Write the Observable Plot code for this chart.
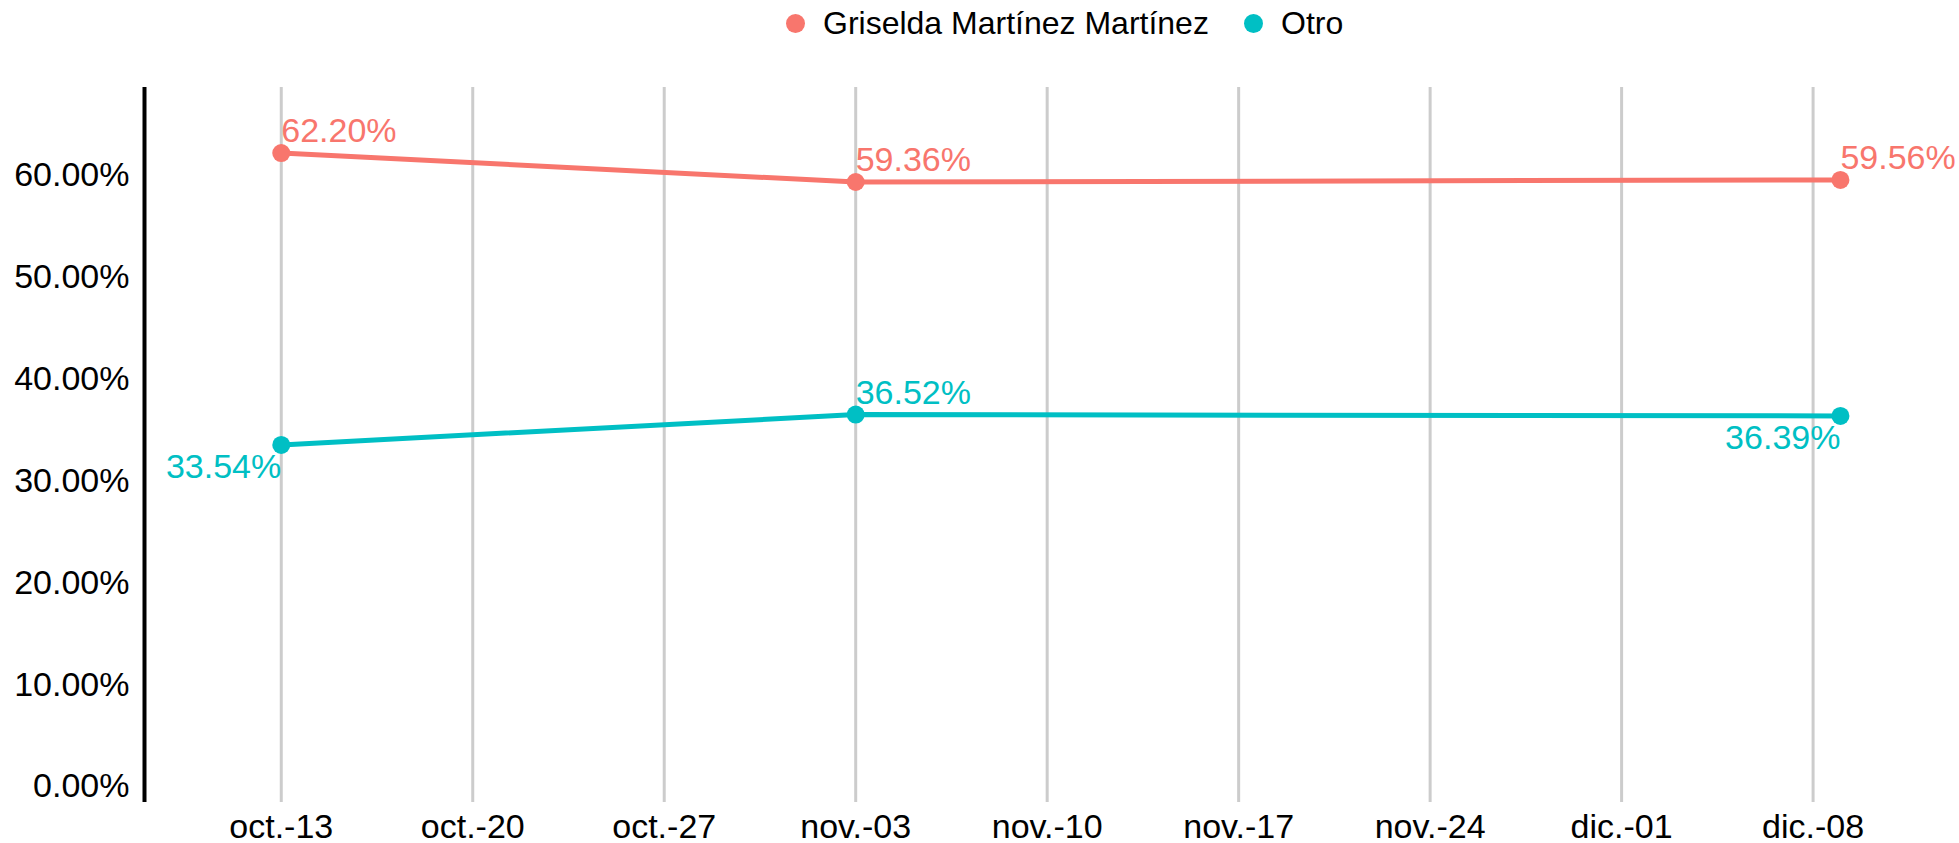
<!DOCTYPE html>
<html>
<head>
<meta charset="utf-8">
<script src="https://cdn.jsdelivr.net/npm/d3@7"></script>
<script src="https://cdn.jsdelivr.net/npm/@observablehq/plot@0.6"></script>
<style>
  html, body { margin: 0; padding: 0; background: #fff; }
  body { width: 1959px; height: 843px; overflow: hidden; font-family: "Liberation Sans", Arial, sans-serif; }
  #legend { height: 46px; position: relative; }
  .item { position: absolute; top: 0; height: 46px; display: flex; align-items: center; font-size: 32px; color: #000; }
  .sw { width: 19px; height: 19px; border-radius: 50%; margin-right: 18px; }
  svg { overflow: visible; display: block; }
</style>
</head>
<body>
<div id="legend"></div>
<div id="chart"></div>
<script>
// ---- data ----
const seriesNames = ["Griselda Martínez Martínez", "Otro"];
const seriesColors = ["#F8766D", "#00BFC4"];
const pollDates = ["2019-10-13", "2019-11-03", "2019-12-09"];
const griseldaValues = [0.6220, 0.5936, 0.5956];
const otroValues = [0.3354, 0.3652, 0.3639];
const weekTicks = ["2019-10-13", "2019-10-20", "2019-10-27", "2019-11-03", "2019-11-10",
                   "2019-11-17", "2019-11-24", "2019-12-01", "2019-12-08"];
const monthLabels = ["ene.", "feb.", "mar.", "abr.", "may.", "jun.", "jul.", "ago.", "sep.", "oct.", "nov.", "dic."];
const yTicks = [0, 0.1, 0.2, 0.3, 0.4, 0.5, 0.6];
const xDomain = ["2019-10-08", "2019-12-12"];

const parse = d3.utcParse("%Y-%m-%d");
const rows = [];
[griseldaValues, otroValues].forEach((vals, k) => {
  vals.forEach((v, i) => rows.push({series: seriesNames[k], date: parse(pollDates[i]), value: v, idx: i}));
});
const below = d => d.series === "Otro" && d.idx !== 1;
const above = rows.filter(d => !below(d));
const under = rows.filter(d => below(d));
const tickDates = weekTicks.map(parse);
const fmtDate = d => monthLabels[d.getUTCMonth()] + "-" + String(d.getUTCDate()).padStart(2, "0");
const pct = d3.format(".2%");
const color = {domain: seriesNames, range: seriesColors};

// ---- legend ----
const legend = document.getElementById("legend");
const legendX = [786, 1244];
seriesNames.forEach((name, i) => {
  const it = document.createElement("div");
  it.className = "item";
  it.style.left = legendX[i] + "px";
  it.innerHTML = `<span class="sw" style="background:${seriesColors[i]}"></span><span>${name}</span>`;
  legend.appendChild(it);
});

// ---- chart ----
const chart = Plot.plot({
  width: 1959,
  height: 797,
  marginLeft: 144,
  marginRight: 37,
  marginTop: 41,
  marginBottom: 41,
  style: {fontFamily: "\"Liberation Sans\", Arial, sans-serif", fontSize: "34px", color: "#000", background: "#fff"},
  x: {type: "utc", domain: xDomain.map(parse)},
  y: {domain: [-0.0157, 0.6864]},
  color,
  marks: [
    Plot.ruleX(tickDates, {stroke: "#cccccc", strokeWidth: 3}),
    Plot.ruleX([parse(xDomain[0])], {stroke: "#000", strokeWidth: 4}),
    Plot.axisY({ticks: yTicks, tickSize: 0, tickPadding: 15, tickFormat: pct, label: null, fontSize: 34, fill: "#000"}),
    Plot.axisX({ticks: tickDates, tickSize: 0, tickPadding: 11, tickFormat: fmtDate, label: null, fontSize: 34, fill: "#000"}),
    Plot.line(rows, {x: "date", y: "value", z: "series", stroke: "series", strokeWidth: 5}),
    Plot.dot(rows, {x: "date", y: "value", fill: "series", r: 9}),
    Plot.text(above, {x: "date", y: "value", text: d => pct(d.value), fill: "series", textAnchor: "start", lineAnchor: "bottom", dy: -11, fontSize: 34}),
    Plot.text(under, {x: "date", y: "value", text: d => pct(d.value), fill: "series", textAnchor: "end", lineAnchor: "top", dy: 9, fontSize: 34})
  ]
});
document.getElementById("chart").appendChild(chart);
</script>
</body>
</html>
